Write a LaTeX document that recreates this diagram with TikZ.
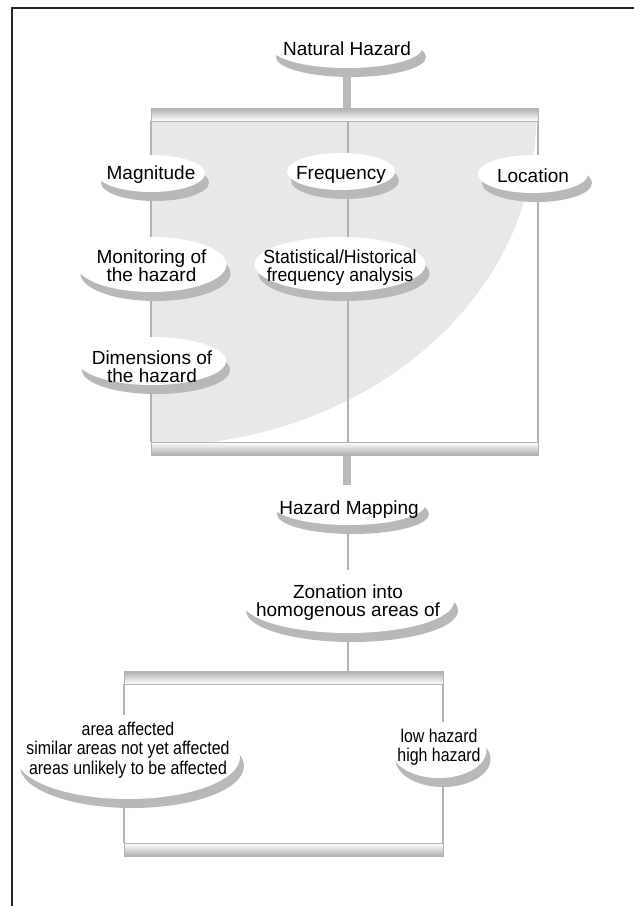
\documentclass[tikz,border=0pt]{standalone}
\usepackage{fontspec}
\setmainfont{Liberation Sans}
\newfontfamily\statfont[FakeStretch=0.93]{Liberation Sans}
\newfontfamily\condfont[FakeStretch=0.86]{Liberation Sans}
\usetikzlibrary{shapes.geometric,shadows}
\tikzset{
  hz/.style 2 args={ellipse, fill=white, minimum width=#1, minimum height=#2, inner sep=0pt,
    drop shadow={shadow xshift=4pt, shadow yshift=-9pt, fill=black!28, opacity=1}},
  lbl/.style={font=\fontsize{19}{18}\selectfont, align=center, inner sep=0pt},
  lblb/.style={font=\condfont\fontsize{18.5}{19.5}\selectfont, align=center, inner sep=0pt},
  topbar/.style 2 args={rectangle, minimum width=#1, minimum height=#2, inner sep=0pt,
    draw=black!30, line width=1pt, top color=black!32, bottom color=white},
  botbar/.style 2 args={rectangle, minimum width=#1, minimum height=#2, inner sep=0pt,
    draw=black!30, line width=1pt, top color=white, bottom color=black!32},
  boxline/.style={draw=black!30, line width=1.2pt},
  thinline/.style={draw=black!30, line width=1.2pt},
  stem/.style={draw=black!27, line width=8.5pt},
  frame/.style={draw=black!85, line width=2pt}
}
\begin{document}
\begin{tikzpicture}[x=1pt,y=-1pt]
\useasboundingbox (0,0) rectangle (634,906);
% outer frame
\draw[frame] (12,906) -- (12,7.5) -- (634,7.5);

% shaded region inside box 1
\begin{scope}
  \clip (151,121) rectangle (538,442);
  \fill[black!9] (151,121) ellipse [x radius=385, y radius=325];
\end{scope}

\coordinate (divtop) at (348,121);
\coordinate (divbot) at (348,442);

% box 1 lines
\draw[boxline] (151,121) coordinate (b1tl) -- (151,442) coordinate (b1bl);
\draw[boxline] (538,121) coordinate (b1tr) -- (538,442) coordinate (b1br);
\draw[boxline] (divtop) -- (divbot);

% box 2 lines
\draw[boxline] (124,684) coordinate (b2tl) -- (124,843) coordinate (b2bl);
\draw[boxline] (443,684) coordinate (b2tr) -- (443,843) coordinate (b2br);

% bars
\node[topbar={387}{13}] (bar1) at (344.5,114.5) {};
\node[botbar={387}{13}] (bar2) at (344.5,448.5) {};
\node[topbar={319}{13}] (bar3) at (283.5,677.5) {};
\node[botbar={319}{13}] (bar4) at (283.5,850) {};

% stems and connectors (drawn before the nodes so that nodes cover them)
\coordinate (nhc) at (347,48);
\coordinate (hmc) at (347,505);
\coordinate (zonc) at (348,601.5);
\draw[stem] (nhc) -- (nhc |- bar1.north);
\draw[stem] (hmc |- bar2.south) -- (hmc);
\draw[thinline] (348,505) -- (zonc);
\draw[thinline] (zonc) -- (zonc |- bar3.north);

% nodes
\node[hz={150}{40}, label={[lbl,yshift=-1pt]center:Natural Hazard}] (nh) at (nhc) {};
\node[hz={108}{37}, label={[lbl,yshift=-1pt]center:Magnitude}] (mag) at (151,173.5) {};
\node[hz={108}{37}, label={[lbl,yshift=-3pt]center:Frequency}] (freq) at (341,171.5) {};
\node[hz={110}{38}, label={[lbl,yshift=-2pt]center:Location}] (loc) at (533,174) {};
\node[hz={150}{55}, label={[lbl,yshift=-1pt]center:Monitoring of\\the hazard}] (mon) at (151.5,264.5) {};
\node[hz={171}{55}, label={[lbl,yshift=-3.5pt,font=\statfont\fontsize{19}{18}\selectfont]center:Statistical/Historical\\frequency analysis}] (stat) at (340,264.5) {};
\node[hz={148}{48}, label={[lbl,yshift=-6pt]center:Dimensions of\\the hazard}] (dim) at (152,361) {};
\node[hz={152}{40}, label={[lbl,yshift=-5pt]center:Hazard Mapping}] (hm) at (349,505) {};
\node[hz={212}{63}, label={[lbl,yshift=-1.5pt]center:Zonation into\\homogenous areas of}] (zon) at (zonc) {};
\node[hz={224}{84}, label={[lblb,yshift=7pt]center:area affected\\similar areas not yet affected\\areas unlikely to be affected}] (area) at (128,757) {};
\node[hz={95}{56}, label={[lblb,yshift=3pt]center:low hazard\\high hazard}] (low) at (439,750) {};
\end{tikzpicture}
\end{document}
